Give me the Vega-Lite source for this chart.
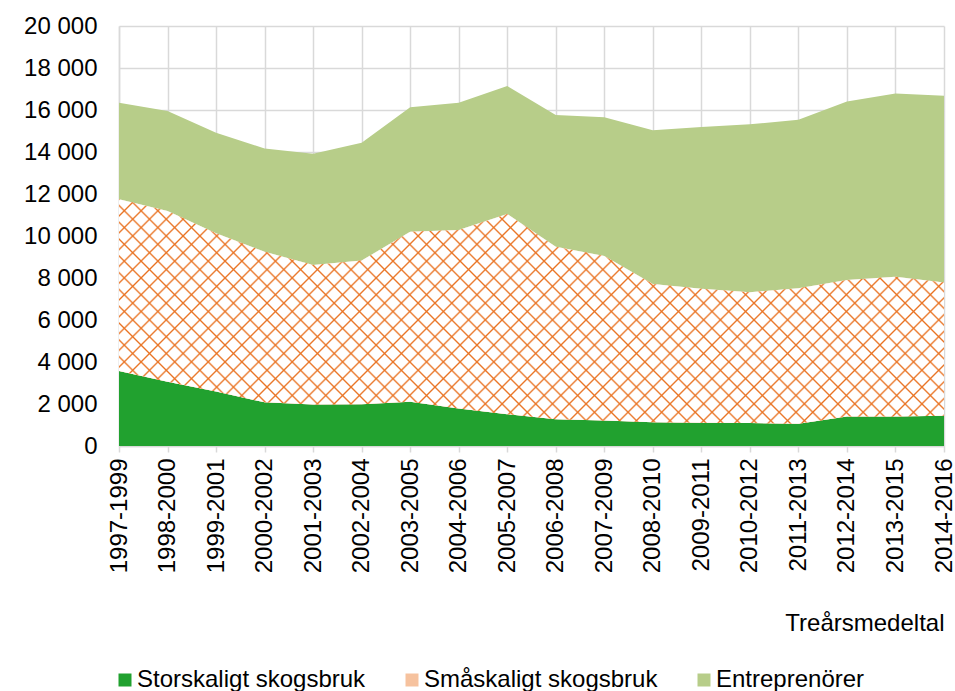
{
 "$schema": "https://vega.github.io/schema/vega-lite/v6.json",
 "width": 825,
 "height": 420,
 "autosize": {"type": "none"},
 "padding": {"left": 119, "top": 26, "right": 11, "bottom": 245},
 "background": "white",
 "config": {"view": {"stroke": null}, "font": "Liberation Sans"},
 "data": {"values": [
  {"period": "1997-1999", "Storskaligt skogsbruk": 3570, "Småskaligt skogsbruk": 8180, "Entreprenörer": 4600},
  {"period": "1998-2000", "Storskaligt skogsbruk": 3060, "Småskaligt skogsbruk": 8130, "Entreprenörer": 4760},
  {"period": "1999-2001", "Storskaligt skogsbruk": 2590, "Småskaligt skogsbruk": 7540, "Entreprenörer": 4790},
  {"period": "2000-2002", "Storskaligt skogsbruk": 2080, "Småskaligt skogsbruk": 7170, "Entreprenörer": 4920},
  {"period": "2001-2003", "Storskaligt skogsbruk": 1980, "Småskaligt skogsbruk": 6640, "Entreprenörer": 5300},
  {"period": "2002-2004", "Storskaligt skogsbruk": 1990, "Småskaligt skogsbruk": 6840, "Entreprenörer": 5610},
  {"period": "2003-2005", "Storskaligt skogsbruk": 2110, "Småskaligt skogsbruk": 8090, "Entreprenörer": 5930},
  {"period": "2004-2006", "Storskaligt skogsbruk": 1790, "Småskaligt skogsbruk": 8500, "Entreprenörer": 6060},
  {"period": "2005-2007", "Storskaligt skogsbruk": 1510, "Småskaligt skogsbruk": 9540, "Entreprenörer": 6090},
  {"period": "2006-2008", "Storskaligt skogsbruk": 1270, "Småskaligt skogsbruk": 8220, "Entreprenörer": 6270},
  {"period": "2007-2009", "Storskaligt skogsbruk": 1210, "Småskaligt skogsbruk": 7840, "Entreprenörer": 6600},
  {"period": "2008-2010", "Storskaligt skogsbruk": 1130, "Småskaligt skogsbruk": 6580, "Entreprenörer": 7320},
  {"period": "2009-2011", "Storskaligt skogsbruk": 1110, "Småskaligt skogsbruk": 6380, "Entreprenörer": 7700},
  {"period": "2010-2012", "Storskaligt skogsbruk": 1090, "Småskaligt skogsbruk": 6230, "Entreprenörer": 8000},
  {"period": "2011-2013", "Storskaligt skogsbruk": 1060, "Småskaligt skogsbruk": 6450, "Entreprenörer": 8030},
  {"period": "2012-2014", "Storskaligt skogsbruk": 1410, "Småskaligt skogsbruk": 6490, "Entreprenörer": 8500},
  {"period": "2013-2015", "Storskaligt skogsbruk": 1410, "Småskaligt skogsbruk": 6650, "Entreprenörer": 8720},
  {"period": "2014-2016", "Storskaligt skogsbruk": 1440, "Småskaligt skogsbruk": 6340, "Entreprenörer": 8900}
 ]},
 "transform": [
  {"fold": ["Storskaligt skogsbruk", "Småskaligt skogsbruk", "Entreprenörer"], "as": ["series", "value"]}
 ],
 "encoding": {
  "x": {
   "field": "period", "type": "ordinal", "title": "Treårsmedeltal",
   "scale": {"type": "point", "padding": 0},
   "axis": {
    "labelAngle": -90, "labelAlign": "right", "labelBaseline": "middle",
    "labelFontSize": 24, "labelColor": "#000", "labelFont": "Liberation Sans",
    "labelPadding": 6, "labelOverlap": false, "labelBound": false, "labelFlush": false,
    "tickSize": 6, "tickColor": "#D9D9D9", "tickWidth": 1.5,
    "domainColor": "#D9D9D9", "domainWidth": 1.5,
    "grid": true, "gridColor": "#D9D9D9", "gridWidth": 1.5,
    "titleFontSize": 24, "titleFontWeight": "normal", "titleColor": "#000", "titleFont": "Liberation Sans",
    "titleAnchor": "end", "titleAlign": "right", "titleX": 825, "titleY": 184, "titleBaseline": "alphabetic"
   }
  }
 },
 "layer": [
  {
   "mark": {"type": "area", "stroke": null},
   "encoding": {
    "y": {
     "field": "value", "type": "quantitative", "stack": "zero", "title": null,
     "scale": {"domain": [0, 20000]},
     "axis": {
      "values": [0, 2000, 4000, 6000, 8000, 10000, 12000, 14000, 16000, 18000, 20000],
      "labelExpr": "replace(format(datum.value, ','), ',', ' ')",
      "labelFontSize": 24, "labelColor": "#000", "labelFont": "Liberation Sans",
      "ticks": false, "labelPadding": 22,
      "domainColor": "#D9D9D9", "domainWidth": 1.5,
      "grid": true, "gridColor": "#D9D9D9", "gridWidth": 1.5
     }
    },
    "color": {
     "field": "series", "type": "nominal",
     "scale": {
      "domain": ["Storskaligt skogsbruk", "Småskaligt skogsbruk", "Entreprenörer"],
      "range": ["#21A12F", "#F6C29E", "#B7CD89"]
     },
     "legend": {
      "title": null, "orient": "none", "legendX": -6, "legendY": 642,
      "direction": "horizontal", "symbolType": "square", "symbolSize": 169,
      "symbolStrokeWidth": 0, "labelFontSize": 24, "labelColor": "#000", "labelLimit": 0,
      "labelFont": "Liberation Sans", "columnPadding": 34, "labelOffset": 0, "padding": 0
     }
    },
    "order": {"field": "series", "sort": "descending"}
   }
  },
  {
   "transform": [
    {"stack": "value", "groupby": ["period"], "sort": [{"field": "series", "order": "descending"}], "as": ["y0", "y1"], "offset": "zero"},
    {"filter": "datum.series === 'Småskaligt skogsbruk'"}
   ],
   "mark": {"type": "area", "stroke": null, "fill": {"gradient": "linear", "x1": 0, "y1": 0, "x2": 1.1844, "y2": 0.3223, "stops": [
    {"offset":0,"color":"#E97323"},{"offset":0.0018,"color":"#fff"},{"offset":0.0142,"color":"#fff"},
    {"offset":0.016,"color":"#E97323"},{"offset":0.0178,"color":"#fff"},{"offset":0.0302,"color":"#fff"},
    {"offset":0.032,"color":"#E97323"},{"offset":0.0338,"color":"#fff"},{"offset":0.0462,"color":"#fff"},
    {"offset":0.048,"color":"#E97323"},{"offset":0.0498,"color":"#fff"},{"offset":0.0622,"color":"#fff"},
    {"offset":0.064,"color":"#E97323"},{"offset":0.0658,"color":"#fff"},{"offset":0.0782,"color":"#fff"},
    {"offset":0.08,"color":"#E97323"},{"offset":0.0818,"color":"#fff"},{"offset":0.0942,"color":"#fff"},
    {"offset":0.096,"color":"#E97323"},{"offset":0.0978,"color":"#fff"},{"offset":0.1102,"color":"#fff"},
    {"offset":0.112,"color":"#E97323"},{"offset":0.1138,"color":"#fff"},{"offset":0.1262,"color":"#fff"},
    {"offset":0.128,"color":"#E97323"},{"offset":0.1298,"color":"#fff"},{"offset":0.1422,"color":"#fff"},
    {"offset":0.144,"color":"#E97323"},{"offset":0.1458,"color":"#fff"},{"offset":0.1582,"color":"#fff"},
    {"offset":0.16,"color":"#E97323"},{"offset":0.1618,"color":"#fff"},{"offset":0.1742,"color":"#fff"},
    {"offset":0.176,"color":"#E97323"},{"offset":0.1778,"color":"#fff"},{"offset":0.1902,"color":"#fff"},
    {"offset":0.192,"color":"#E97323"},{"offset":0.1938,"color":"#fff"},{"offset":0.2062,"color":"#fff"},
    {"offset":0.208,"color":"#E97323"},{"offset":0.2098,"color":"#fff"},{"offset":0.2222,"color":"#fff"},
    {"offset":0.224,"color":"#E97323"},{"offset":0.2258,"color":"#fff"},{"offset":0.2382,"color":"#fff"},
    {"offset":0.24,"color":"#E97323"},{"offset":0.2418,"color":"#fff"},{"offset":0.2542,"color":"#fff"},
    {"offset":0.256,"color":"#E97323"},{"offset":0.2578,"color":"#fff"},{"offset":0.2702,"color":"#fff"},
    {"offset":0.272,"color":"#E97323"},{"offset":0.2738,"color":"#fff"},{"offset":0.2862,"color":"#fff"},
    {"offset":0.288,"color":"#E97323"},{"offset":0.2898,"color":"#fff"},{"offset":0.3022,"color":"#fff"},
    {"offset":0.304,"color":"#E97323"},{"offset":0.3058,"color":"#fff"},{"offset":0.3182,"color":"#fff"},
    {"offset":0.32,"color":"#E97323"},{"offset":0.3218,"color":"#fff"},{"offset":0.3342,"color":"#fff"},
    {"offset":0.336,"color":"#E97323"},{"offset":0.3378,"color":"#fff"},{"offset":0.3502,"color":"#fff"},
    {"offset":0.352,"color":"#E97323"},{"offset":0.3538,"color":"#fff"},{"offset":0.3662,"color":"#fff"},
    {"offset":0.368,"color":"#E97323"},{"offset":0.3698,"color":"#fff"},{"offset":0.3822,"color":"#fff"},
    {"offset":0.384,"color":"#E97323"},{"offset":0.3858,"color":"#fff"},{"offset":0.3982,"color":"#fff"},
    {"offset":0.4,"color":"#E97323"},{"offset":0.4018,"color":"#fff"},{"offset":0.4142,"color":"#fff"},
    {"offset":0.416,"color":"#E97323"},{"offset":0.4178,"color":"#fff"},{"offset":0.4302,"color":"#fff"},
    {"offset":0.432,"color":"#E97323"},{"offset":0.4338,"color":"#fff"},{"offset":0.4462,"color":"#fff"},
    {"offset":0.448,"color":"#E97323"},{"offset":0.4498,"color":"#fff"},{"offset":0.4622,"color":"#fff"},
    {"offset":0.464,"color":"#E97323"},{"offset":0.4658,"color":"#fff"},{"offset":0.4782,"color":"#fff"},
    {"offset":0.48,"color":"#E97323"},{"offset":0.4818,"color":"#fff"},{"offset":0.4942,"color":"#fff"},
    {"offset":0.496,"color":"#E97323"},{"offset":0.4978,"color":"#fff"},{"offset":0.5102,"color":"#fff"},
    {"offset":0.512,"color":"#E97323"},{"offset":0.5138,"color":"#fff"},{"offset":0.5262,"color":"#fff"},
    {"offset":0.528,"color":"#E97323"},{"offset":0.5298,"color":"#fff"},{"offset":0.5422,"color":"#fff"},
    {"offset":0.544,"color":"#E97323"},{"offset":0.5458,"color":"#fff"},{"offset":0.5582,"color":"#fff"},
    {"offset":0.56,"color":"#E97323"},{"offset":0.5618,"color":"#fff"},{"offset":0.5742,"color":"#fff"},
    {"offset":0.576,"color":"#E97323"},{"offset":0.5778,"color":"#fff"},{"offset":0.5902,"color":"#fff"},
    {"offset":0.592,"color":"#E97323"},{"offset":0.5938,"color":"#fff"},{"offset":0.6062,"color":"#fff"},
    {"offset":0.608,"color":"#E97323"},{"offset":0.6098,"color":"#fff"},{"offset":0.6222,"color":"#fff"},
    {"offset":0.624,"color":"#E97323"},{"offset":0.6258,"color":"#fff"},{"offset":0.6382,"color":"#fff"},
    {"offset":0.64,"color":"#E97323"},{"offset":0.6418,"color":"#fff"},{"offset":0.6542,"color":"#fff"},
    {"offset":0.656,"color":"#E97323"},{"offset":0.6578,"color":"#fff"},{"offset":0.6702,"color":"#fff"},
    {"offset":0.672,"color":"#E97323"},{"offset":0.6738,"color":"#fff"},{"offset":0.6862,"color":"#fff"},
    {"offset":0.688,"color":"#E97323"},{"offset":0.6898,"color":"#fff"},{"offset":0.7022,"color":"#fff"},
    {"offset":0.704,"color":"#E97323"},{"offset":0.7058,"color":"#fff"},{"offset":0.7182,"color":"#fff"},
    {"offset":0.72,"color":"#E97323"},{"offset":0.7218,"color":"#fff"},{"offset":0.7342,"color":"#fff"},
    {"offset":0.736,"color":"#E97323"},{"offset":0.7378,"color":"#fff"},{"offset":0.7502,"color":"#fff"},
    {"offset":0.752,"color":"#E97323"},{"offset":0.7538,"color":"#fff"},{"offset":0.7662,"color":"#fff"},
    {"offset":0.768,"color":"#E97323"},{"offset":0.7698,"color":"#fff"},{"offset":0.7822,"color":"#fff"},
    {"offset":0.784,"color":"#E97323"},{"offset":0.7858,"color":"#fff"},{"offset":0.7982,"color":"#fff"},
    {"offset":0.8,"color":"#E97323"},{"offset":0.8018,"color":"#fff"},{"offset":0.8142,"color":"#fff"},
    {"offset":0.816,"color":"#E97323"},{"offset":0.8178,"color":"#fff"},{"offset":0.8302,"color":"#fff"},
    {"offset":0.832,"color":"#E97323"},{"offset":0.8338,"color":"#fff"},{"offset":0.8462,"color":"#fff"},
    {"offset":0.848,"color":"#E97323"},{"offset":0.8498,"color":"#fff"},{"offset":0.8622,"color":"#fff"},
    {"offset":0.864,"color":"#E97323"},{"offset":0.8658,"color":"#fff"},{"offset":0.8782,"color":"#fff"},
    {"offset":0.88,"color":"#E97323"},{"offset":0.8818,"color":"#fff"},{"offset":0.8942,"color":"#fff"},
    {"offset":0.896,"color":"#E97323"},{"offset":0.8978,"color":"#fff"},{"offset":0.9102,"color":"#fff"},
    {"offset":0.912,"color":"#E97323"},{"offset":0.9138,"color":"#fff"},{"offset":0.9262,"color":"#fff"},
    {"offset":0.928,"color":"#E97323"},{"offset":0.9298,"color":"#fff"},{"offset":0.9422,"color":"#fff"},
    {"offset":0.944,"color":"#E97323"},{"offset":0.9458,"color":"#fff"},{"offset":0.9582,"color":"#fff"},
    {"offset":0.96,"color":"#E97323"},{"offset":0.9618,"color":"#fff"},{"offset":0.9742,"color":"#fff"},
    {"offset":0.976,"color":"#E97323"},{"offset":0.9778,"color":"#fff"},{"offset":0.9902,"color":"#fff"},
    {"offset":0.992,"color":"#E97323"},{"offset":0.9938,"color":"#fff"},{"offset":1,"color":"#fff"}
   ]}},
   "encoding": {
    "y": {"field": "y1", "type": "quantitative", "title": null},
    "y2": {"field": "y0"}
   }
  },
  {
   "transform": [
    {"stack": "value", "groupby": ["period"], "sort": [{"field": "series", "order": "descending"}], "as": ["y0", "y1"], "offset": "zero"},
    {"filter": "datum.series === 'Småskaligt skogsbruk'"}
   ],
   "mark": {"type": "area", "stroke": null, "fill": {"gradient": "linear", "x1": 0, "y1": 1, "x2": 1.1844, "y2": 0.6777, "stops": [
    {"offset":0,"color":"#E97323"},{"offset":0.0018,"color":"rgba(233,115,35,0)"},{"offset":0.0142,"color":"rgba(233,115,35,0)"},
    {"offset":0.016,"color":"#E97323"},{"offset":0.0178,"color":"rgba(233,115,35,0)"},{"offset":0.0302,"color":"rgba(233,115,35,0)"},
    {"offset":0.032,"color":"#E97323"},{"offset":0.0338,"color":"rgba(233,115,35,0)"},{"offset":0.0462,"color":"rgba(233,115,35,0)"},
    {"offset":0.048,"color":"#E97323"},{"offset":0.0498,"color":"rgba(233,115,35,0)"},{"offset":0.0622,"color":"rgba(233,115,35,0)"},
    {"offset":0.064,"color":"#E97323"},{"offset":0.0658,"color":"rgba(233,115,35,0)"},{"offset":0.0782,"color":"rgba(233,115,35,0)"},
    {"offset":0.08,"color":"#E97323"},{"offset":0.0818,"color":"rgba(233,115,35,0)"},{"offset":0.0942,"color":"rgba(233,115,35,0)"},
    {"offset":0.096,"color":"#E97323"},{"offset":0.0978,"color":"rgba(233,115,35,0)"},{"offset":0.1102,"color":"rgba(233,115,35,0)"},
    {"offset":0.112,"color":"#E97323"},{"offset":0.1138,"color":"rgba(233,115,35,0)"},{"offset":0.1262,"color":"rgba(233,115,35,0)"},
    {"offset":0.128,"color":"#E97323"},{"offset":0.1298,"color":"rgba(233,115,35,0)"},{"offset":0.1422,"color":"rgba(233,115,35,0)"},
    {"offset":0.144,"color":"#E97323"},{"offset":0.1458,"color":"rgba(233,115,35,0)"},{"offset":0.1582,"color":"rgba(233,115,35,0)"},
    {"offset":0.16,"color":"#E97323"},{"offset":0.1618,"color":"rgba(233,115,35,0)"},{"offset":0.1742,"color":"rgba(233,115,35,0)"},
    {"offset":0.176,"color":"#E97323"},{"offset":0.1778,"color":"rgba(233,115,35,0)"},{"offset":0.1902,"color":"rgba(233,115,35,0)"},
    {"offset":0.192,"color":"#E97323"},{"offset":0.1938,"color":"rgba(233,115,35,0)"},{"offset":0.2062,"color":"rgba(233,115,35,0)"},
    {"offset":0.208,"color":"#E97323"},{"offset":0.2098,"color":"rgba(233,115,35,0)"},{"offset":0.2222,"color":"rgba(233,115,35,0)"},
    {"offset":0.224,"color":"#E97323"},{"offset":0.2258,"color":"rgba(233,115,35,0)"},{"offset":0.2382,"color":"rgba(233,115,35,0)"},
    {"offset":0.24,"color":"#E97323"},{"offset":0.2418,"color":"rgba(233,115,35,0)"},{"offset":0.2542,"color":"rgba(233,115,35,0)"},
    {"offset":0.256,"color":"#E97323"},{"offset":0.2578,"color":"rgba(233,115,35,0)"},{"offset":0.2702,"color":"rgba(233,115,35,0)"},
    {"offset":0.272,"color":"#E97323"},{"offset":0.2738,"color":"rgba(233,115,35,0)"},{"offset":0.2862,"color":"rgba(233,115,35,0)"},
    {"offset":0.288,"color":"#E97323"},{"offset":0.2898,"color":"rgba(233,115,35,0)"},{"offset":0.3022,"color":"rgba(233,115,35,0)"},
    {"offset":0.304,"color":"#E97323"},{"offset":0.3058,"color":"rgba(233,115,35,0)"},{"offset":0.3182,"color":"rgba(233,115,35,0)"},
    {"offset":0.32,"color":"#E97323"},{"offset":0.3218,"color":"rgba(233,115,35,0)"},{"offset":0.3342,"color":"rgba(233,115,35,0)"},
    {"offset":0.336,"color":"#E97323"},{"offset":0.3378,"color":"rgba(233,115,35,0)"},{"offset":0.3502,"color":"rgba(233,115,35,0)"},
    {"offset":0.352,"color":"#E97323"},{"offset":0.3538,"color":"rgba(233,115,35,0)"},{"offset":0.3662,"color":"rgba(233,115,35,0)"},
    {"offset":0.368,"color":"#E97323"},{"offset":0.3698,"color":"rgba(233,115,35,0)"},{"offset":0.3822,"color":"rgba(233,115,35,0)"},
    {"offset":0.384,"color":"#E97323"},{"offset":0.3858,"color":"rgba(233,115,35,0)"},{"offset":0.3982,"color":"rgba(233,115,35,0)"},
    {"offset":0.4,"color":"#E97323"},{"offset":0.4018,"color":"rgba(233,115,35,0)"},{"offset":0.4142,"color":"rgba(233,115,35,0)"},
    {"offset":0.416,"color":"#E97323"},{"offset":0.4178,"color":"rgba(233,115,35,0)"},{"offset":0.4302,"color":"rgba(233,115,35,0)"},
    {"offset":0.432,"color":"#E97323"},{"offset":0.4338,"color":"rgba(233,115,35,0)"},{"offset":0.4462,"color":"rgba(233,115,35,0)"},
    {"offset":0.448,"color":"#E97323"},{"offset":0.4498,"color":"rgba(233,115,35,0)"},{"offset":0.4622,"color":"rgba(233,115,35,0)"},
    {"offset":0.464,"color":"#E97323"},{"offset":0.4658,"color":"rgba(233,115,35,0)"},{"offset":0.4782,"color":"rgba(233,115,35,0)"},
    {"offset":0.48,"color":"#E97323"},{"offset":0.4818,"color":"rgba(233,115,35,0)"},{"offset":0.4942,"color":"rgba(233,115,35,0)"},
    {"offset":0.496,"color":"#E97323"},{"offset":0.4978,"color":"rgba(233,115,35,0)"},{"offset":0.5102,"color":"rgba(233,115,35,0)"},
    {"offset":0.512,"color":"#E97323"},{"offset":0.5138,"color":"rgba(233,115,35,0)"},{"offset":0.5262,"color":"rgba(233,115,35,0)"},
    {"offset":0.528,"color":"#E97323"},{"offset":0.5298,"color":"rgba(233,115,35,0)"},{"offset":0.5422,"color":"rgba(233,115,35,0)"},
    {"offset":0.544,"color":"#E97323"},{"offset":0.5458,"color":"rgba(233,115,35,0)"},{"offset":0.5582,"color":"rgba(233,115,35,0)"},
    {"offset":0.56,"color":"#E97323"},{"offset":0.5618,"color":"rgba(233,115,35,0)"},{"offset":0.5742,"color":"rgba(233,115,35,0)"},
    {"offset":0.576,"color":"#E97323"},{"offset":0.5778,"color":"rgba(233,115,35,0)"},{"offset":0.5902,"color":"rgba(233,115,35,0)"},
    {"offset":0.592,"color":"#E97323"},{"offset":0.5938,"color":"rgba(233,115,35,0)"},{"offset":0.6062,"color":"rgba(233,115,35,0)"},
    {"offset":0.608,"color":"#E97323"},{"offset":0.6098,"color":"rgba(233,115,35,0)"},{"offset":0.6222,"color":"rgba(233,115,35,0)"},
    {"offset":0.624,"color":"#E97323"},{"offset":0.6258,"color":"rgba(233,115,35,0)"},{"offset":0.6382,"color":"rgba(233,115,35,0)"},
    {"offset":0.64,"color":"#E97323"},{"offset":0.6418,"color":"rgba(233,115,35,0)"},{"offset":0.6542,"color":"rgba(233,115,35,0)"},
    {"offset":0.656,"color":"#E97323"},{"offset":0.6578,"color":"rgba(233,115,35,0)"},{"offset":0.6702,"color":"rgba(233,115,35,0)"},
    {"offset":0.672,"color":"#E97323"},{"offset":0.6738,"color":"rgba(233,115,35,0)"},{"offset":0.6862,"color":"rgba(233,115,35,0)"},
    {"offset":0.688,"color":"#E97323"},{"offset":0.6898,"color":"rgba(233,115,35,0)"},{"offset":0.7022,"color":"rgba(233,115,35,0)"},
    {"offset":0.704,"color":"#E97323"},{"offset":0.7058,"color":"rgba(233,115,35,0)"},{"offset":0.7182,"color":"rgba(233,115,35,0)"},
    {"offset":0.72,"color":"#E97323"},{"offset":0.7218,"color":"rgba(233,115,35,0)"},{"offset":0.7342,"color":"rgba(233,115,35,0)"},
    {"offset":0.736,"color":"#E97323"},{"offset":0.7378,"color":"rgba(233,115,35,0)"},{"offset":0.7502,"color":"rgba(233,115,35,0)"},
    {"offset":0.752,"color":"#E97323"},{"offset":0.7538,"color":"rgba(233,115,35,0)"},{"offset":0.7662,"color":"rgba(233,115,35,0)"},
    {"offset":0.768,"color":"#E97323"},{"offset":0.7698,"color":"rgba(233,115,35,0)"},{"offset":0.7822,"color":"rgba(233,115,35,0)"},
    {"offset":0.784,"color":"#E97323"},{"offset":0.7858,"color":"rgba(233,115,35,0)"},{"offset":0.7982,"color":"rgba(233,115,35,0)"},
    {"offset":0.8,"color":"#E97323"},{"offset":0.8018,"color":"rgba(233,115,35,0)"},{"offset":0.8142,"color":"rgba(233,115,35,0)"},
    {"offset":0.816,"color":"#E97323"},{"offset":0.8178,"color":"rgba(233,115,35,0)"},{"offset":0.8302,"color":"rgba(233,115,35,0)"},
    {"offset":0.832,"color":"#E97323"},{"offset":0.8338,"color":"rgba(233,115,35,0)"},{"offset":0.8462,"color":"rgba(233,115,35,0)"},
    {"offset":0.848,"color":"#E97323"},{"offset":0.8498,"color":"rgba(233,115,35,0)"},{"offset":0.8622,"color":"rgba(233,115,35,0)"},
    {"offset":0.864,"color":"#E97323"},{"offset":0.8658,"color":"rgba(233,115,35,0)"},{"offset":0.8782,"color":"rgba(233,115,35,0)"},
    {"offset":0.88,"color":"#E97323"},{"offset":0.8818,"color":"rgba(233,115,35,0)"},{"offset":0.8942,"color":"rgba(233,115,35,0)"},
    {"offset":0.896,"color":"#E97323"},{"offset":0.8978,"color":"rgba(233,115,35,0)"},{"offset":0.9102,"color":"rgba(233,115,35,0)"},
    {"offset":0.912,"color":"#E97323"},{"offset":0.9138,"color":"rgba(233,115,35,0)"},{"offset":0.9262,"color":"rgba(233,115,35,0)"},
    {"offset":0.928,"color":"#E97323"},{"offset":0.9298,"color":"rgba(233,115,35,0)"},{"offset":0.9422,"color":"rgba(233,115,35,0)"},
    {"offset":0.944,"color":"#E97323"},{"offset":0.9458,"color":"rgba(233,115,35,0)"},{"offset":0.9582,"color":"rgba(233,115,35,0)"},
    {"offset":0.96,"color":"#E97323"},{"offset":0.9618,"color":"rgba(233,115,35,0)"},{"offset":0.9742,"color":"rgba(233,115,35,0)"},
    {"offset":0.976,"color":"#E97323"},{"offset":0.9778,"color":"rgba(233,115,35,0)"},{"offset":0.9902,"color":"rgba(233,115,35,0)"},
    {"offset":0.992,"color":"#E97323"},{"offset":0.9938,"color":"rgba(233,115,35,0)"},{"offset":1,"color":"rgba(233,115,35,0)"}
   ]}},
   "encoding": {
    "y": {"field": "y1", "type": "quantitative", "title": null},
    "y2": {"field": "y0"}
   }
  }
 ]
}
